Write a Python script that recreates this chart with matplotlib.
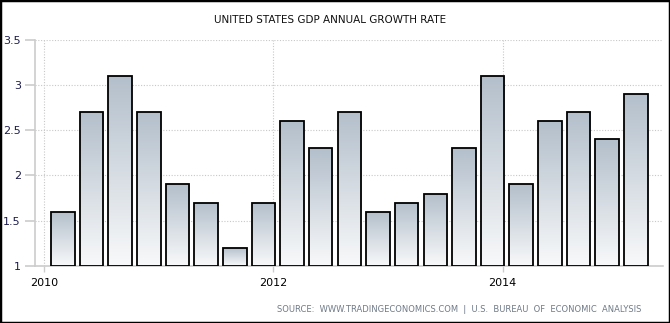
import matplotlib.pyplot as plt
import numpy as np
from matplotlib.colors import LinearSegmentedColormap
from matplotlib.patches import Rectangle

# quarterly GDP annual growth rate, 2010 Q1 .. 2015 Q1
growth = [1.6, 2.7, 3.1, 2.7, 1.9, 1.7, 1.2, 1.7, 2.6, 2.3, 2.7,
          1.6, 1.7, 1.8, 2.3, 3.1, 1.9, 2.6, 2.7, 2.4, 2.9]
year_ticks = [2010, 2012, 2014]
y_ticks = [1, 1.5, 2, 2.5, 3, 3.5]
y_labels = ['1', '1.5', '2', '2.5', '3', '3.5']

# x axis in quarters counted from the start of 2010
quarters = np.arange(len(growth)) + 0.65
year_pos = [(y - 2010) * 4 for y in year_ticks]

fig = plt.figure(figsize=(6.70, 3.23), dpi=100)
ax = fig.add_axes([0.0518, 0.1765, 0.9378, 0.7012])

cmap = LinearSegmentedColormap.from_list('bar', ['#f8f9fa', '#b3bfcb'])
grad = np.linspace(0, 1, 256).reshape(-1, 1)
w = 0.82
for x, v in zip(quarters, growth):
    rect = Rectangle((x - w / 2, 1), w, v - 1, facecolor='none',
                     edgecolor='black', linewidth=1.3, zorder=3,
                     joinstyle='miter')
    ax.add_patch(rect)
    im = ax.imshow(grad, cmap=cmap, origin='lower', aspect='auto',
                   extent=(x - w / 2, x + w / 2, 1, v), zorder=2,
                   interpolation='bilinear')
    im.set_clip_path(rect)

ax.set_xlim(-0.335, 21.6)
ax.set_ylim(1, 3.5)

ax.set_yticks(y_ticks)
ax.set_yticklabels(y_labels, color='#1c1c4c', fontsize=8)
ax.set_xticks(year_pos)
ax.set_xticklabels([str(y) for y in year_ticks], fontsize=8, color='black')

ax.grid(True, color='#c8c8c8', linestyle=(0, (1, 1.5)), linewidth=0.8, zorder=0)
ax.set_axisbelow(True)

for s in ['top', 'right']:
    ax.spines[s].set_visible(False)
for s in ['left', 'bottom']:
    ax.spines[s].set_color('#cccccc')
    ax.spines[s].set_linewidth(1.2)
ax.tick_params(axis='y', length=7, color='#cccccc', width=1.2, pad=3)
ax.tick_params(axis='x', length=4, color='#cccccc', width=1.0, pad=5)

fig.text(0.493, 0.938, 'UNITED STATES GDP ANNUAL GROWTH RATE',
         ha='center', va='center', fontsize=7.5, color='#111111')
fig.text(0.958, 0.043,
         'SOURCE:  WWW.TRADINGECONOMICS.COM  |  U.S.  BUREAU  OF  ECONOMIC  ANALYSIS',
         ha='right', va='center', fontsize=6, color='#6f7a88')

# frame around the whole image
fig.patches.append(Rectangle((0, 0), 1, 1, transform=fig.transFigure,
                             fill=False, edgecolor='black', linewidth=2.5))

fig.savefig('out.png', dpi=100)
